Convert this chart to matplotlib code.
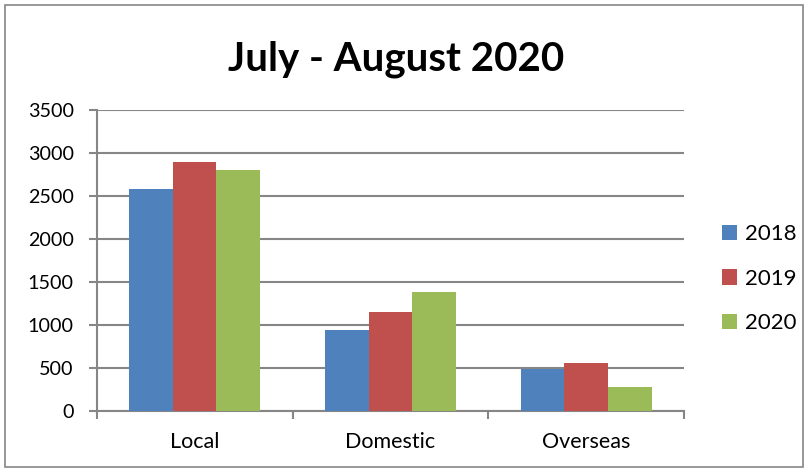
import numpy as np
import matplotlib.pyplot as plt
from matplotlib.patches import Rectangle

categories = ["Local", "Domestic", "Overseas"]
years = ["2018", "2019", "2020"]
v2018 = [2580, 945, 490]
v2019 = [2900, 1155, 565]
v2020 = [2800, 1385, 285]
colors = ["#4F81BD", "#C0504D", "#9BBB59"]

plt.rcParams['font.family'] = ['Lato', 'DejaVu Sans']

fig = plt.figure(figsize=(8.07, 4.70), dpi=100)
ax = fig.add_axes([0.1198, 0.1245, 0.728, 0.6415])

x = np.arange(len(categories))
w = 1 / 4.5
for i, (vals, lab, c) in enumerate(zip([v2018, v2019, v2020], years, colors)):
    ax.bar(x + (i - 1) * w, vals, width=w, color=c, label=lab, zorder=3)

ax.set_xlim(-0.5, 2.5)
ax.set_ylim(0, 3500)
ax.set_yticks(range(0, 3501, 500))
ax.yaxis.grid(True, color="#868686", linewidth=1.5)
ax.set_axisbelow(True)

ax.set_xticks(x)
ax.set_xticklabels(categories)
ax.set_xticks([-0.5, 0.5, 1.5, 2.5], minor=True)
ax.tick_params(axis='x', which='major', length=0, pad=15, labelsize=15.5)
ax.tick_params(axis='x', which='minor', length=6, width=1.5, color="#868686")
ax.tick_params(axis='y', length=6, width=1.5, color="#868686", labelsize=14.2, pad=10.5)

for s in ["top", "right"]:
    ax.spines[s].set_visible(False)
for s in ["left", "bottom"]:
    ax.spines[s].set_color("#868686")
    ax.spines[s].set_linewidth(1.5)

fig.text(0.491, 0.875, "July - August 2020", ha="center", va="center",
         fontsize=29, fontweight="bold")

ax.legend(loc="center left", bbox_to_anchor=(1.03, 0.44), frameon=False,
          fontsize=16, handlelength=0.7, handleheight=0.7,
          handletextpad=0.35, labelspacing=1.1)

fig.patches.append(Rectangle((5 / 807, 3 / 470), 798 / 807, 462 / 470,
                             transform=fig.transFigure, fill=False,
                             edgecolor="#868686", linewidth=1.2))

fig.savefig("out.png", dpi=100)
